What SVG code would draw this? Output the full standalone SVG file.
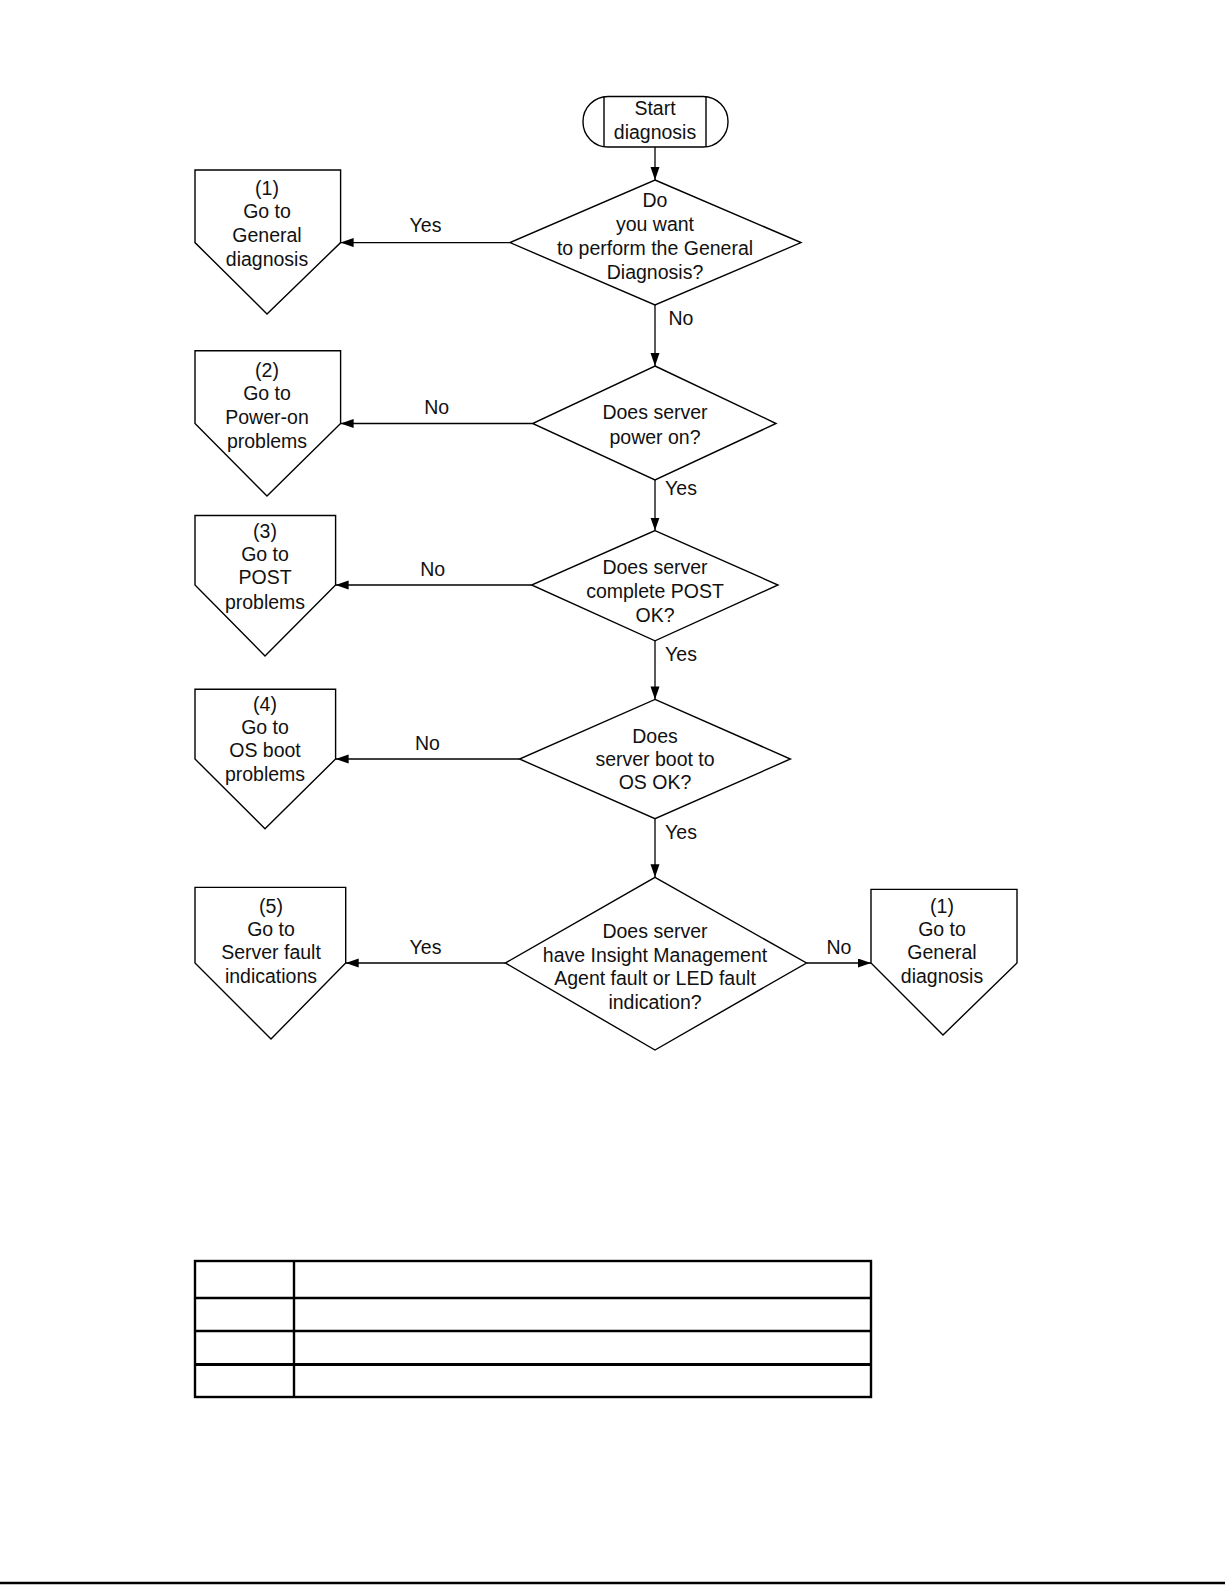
<svg xmlns="http://www.w3.org/2000/svg" width="1225" height="1585" viewBox="0 0 1225 1585">
<style>
.s{fill:#fff;stroke:#000;stroke-width:1.4;stroke-linejoin:miter}
.t{font-family:"Liberation Sans",Arial,sans-serif;font-size:19.5px;fill:#111;text-anchor:middle}
.c{stroke:#000;stroke-width:1.3;fill:none;marker-end:url(#ah)}
.tb{stroke:#000;stroke-width:2.4;fill:none}
</style>
<defs>
<marker id="ah" markerUnits="userSpaceOnUse" markerWidth="14" markerHeight="10" refX="13" refY="4.5" orient="auto">
<path d="M0,0 L13,4.5 L0,9 Z" fill="#000"/>
</marker>
</defs>
<rect width="1225" height="1585" fill="#fff"/>

<g id="connectors">
<line class="c" x1="655" y1="147" x2="655" y2="180"/>
<line class="c" x1="510" y1="242.6" x2="340.6" y2="242.6"/>
<line class="c" x1="655" y1="305" x2="655" y2="366"/>
<line class="c" x1="532.6" y1="423.5" x2="340.6" y2="423.5"/>
<line class="c" x1="655" y1="480" x2="655" y2="530.6"/>
<line class="c" x1="531.6" y1="585" x2="335.6" y2="585"/>
<line class="c" x1="655" y1="640.8" x2="655" y2="699.4"/>
<line class="c" x1="519.5" y1="759" x2="335.6" y2="759"/>
<line class="c" x1="655" y1="818.7" x2="655" y2="877.3"/>
<line class="c" x1="505.4" y1="963" x2="345.7" y2="963"/>
<line class="c" x1="806.5" y1="963" x2="871" y2="963"/>
<text class="t" x="425.5" y="232">Yes</text>
<text class="t" x="681" y="325">No</text>
<text class="t" x="436.6" y="414">No</text>
<text class="t" x="681" y="495">Yes</text>
<text class="t" x="432.6" y="576">No</text>
<text class="t" x="681" y="661">Yes</text>
<text class="t" x="427.5" y="750">No</text>
<text class="t" x="681" y="839">Yes</text>
<text class="t" x="425.5" y="954">Yes</text>
<text class="t" x="839" y="954">No</text>
</g>

<g id="start">
<rect class="s" x="583" y="96.5" width="145" height="50.5" rx="25" ry="25"/>
<line x1="604" y1="96.5" x2="604" y2="147" stroke="#000" stroke-width="1.4"/>
<line x1="706" y1="96.5" x2="706" y2="147" stroke="#000" stroke-width="1.4"/>
<text class="t"><tspan x="655" y="115">Start</tspan><tspan x="655" y="139">diagnosis</tspan></text>
</g>

<g id="d1">
<polygon class="s" points="655,180 801,242.6 655,305 510,242.6"/>
<text class="t"><tspan x="655" y="207">Do</tspan><tspan x="655" y="230.5">you want</tspan><tspan x="655" y="254.5">to perform the General</tspan><tspan x="655" y="279">Diagnosis?</tspan></text>
</g>

<g id="p1">
<polygon class="s" points="195,170 340.6,170 340.6,242.6 267,314 195,242.6"/>
<text class="t"><tspan x="267" y="195">(1)</tspan><tspan x="267" y="218">Go to</tspan><tspan x="267" y="241.5">General</tspan><tspan x="267" y="265.5">diagnosis</tspan></text>
</g>

<g id="d2">
<polygon class="s" points="655,366 776,423.5 655,480 532.6,423.5"/>
<text class="t"><tspan x="655" y="419">Does server</tspan><tspan x="655" y="443.5">power on?</tspan></text>
</g>

<g id="p2">
<polygon class="s" points="195,350.7 340.6,350.7 340.6,423.5 267,496 195,423.5"/>
<text class="t"><tspan x="267" y="377">(2)</tspan><tspan x="267" y="400">Go to</tspan><tspan x="267" y="423.5">Power-on</tspan><tspan x="267" y="447.5">problems</tspan></text>
</g>

<g id="d3">
<polygon class="s" points="655,530.6 778,585 655,640.8 531.6,585"/>
<text class="t"><tspan x="655" y="574">Does server</tspan><tspan x="655" y="598">complete POST</tspan><tspan x="655" y="621.5">OK?</tspan></text>
</g>

<g id="p3">
<polygon class="s" points="195,515.5 335.6,515.5 335.6,585 265,656 195,585"/>
<text class="t"><tspan x="265" y="537.5">(3)</tspan><tspan x="265" y="561">Go to</tspan><tspan x="265" y="584">POST</tspan><tspan x="265" y="608.5">problems</tspan></text>
</g>

<g id="d4">
<polygon class="s" points="655,699.4 790.4,759 655,818.7 519.5,759"/>
<text class="t"><tspan x="655" y="743">Does</tspan><tspan x="655" y="766">server boot to</tspan><tspan x="655" y="789.3">OS OK?</tspan></text>
</g>

<g id="p4">
<polygon class="s" points="195,689.3 335.6,689.3 335.6,759 265,828.8 195,759"/>
<text class="t"><tspan x="265" y="710.5">(4)</tspan><tspan x="265" y="733.7">Go to</tspan><tspan x="265" y="757">OS boot</tspan><tspan x="265" y="781.2">problems</tspan></text>
</g>

<g id="d5">
<polygon class="s" points="655,877.3 806.5,963 655,1050 505.4,963"/>
<text class="t"><tspan x="655" y="938">Does server</tspan><tspan x="655" y="962">have Insight Management</tspan><tspan x="655" y="985.4">Agent fault or LED fault</tspan><tspan x="655" y="1008.6">indication?</tspan></text>
</g>

<g id="p5">
<polygon class="s" points="195,887.4 345.7,887.4 345.7,963 271,1039 195,963"/>
<text class="t"><tspan x="271" y="912.6">(5)</tspan><tspan x="271" y="936">Go to</tspan><tspan x="271" y="959">Server fault</tspan><tspan x="271" y="983.3">indications</tspan></text>
</g>

<g id="p6">
<polygon class="s" points="871,889.4 1017,889.4 1017,963 943,1035 871,963"/>
<text class="t"><tspan x="942" y="912.6">(1)</tspan><tspan x="942" y="936">Go to</tspan><tspan x="942" y="959">General</tspan><tspan x="942" y="983.3">diagnosis</tspan></text>
</g>

<g id="table">
<rect class="tb" x="195" y="1261" width="676" height="136"/>
<line class="tb" x1="294" y1="1261" x2="294" y2="1397"/>
<line class="tb" x1="195" y1="1298" x2="871" y2="1298"/>
<line class="tb" x1="195" y1="1331" x2="871" y2="1331"/>
<line x1="195" y1="1364.5" x2="871" y2="1364.5" stroke="#000" stroke-width="3"/>
</g>

<line x1="0" y1="1583" x2="1225" y2="1583" stroke="#000" stroke-width="2.5"/>
</svg>
